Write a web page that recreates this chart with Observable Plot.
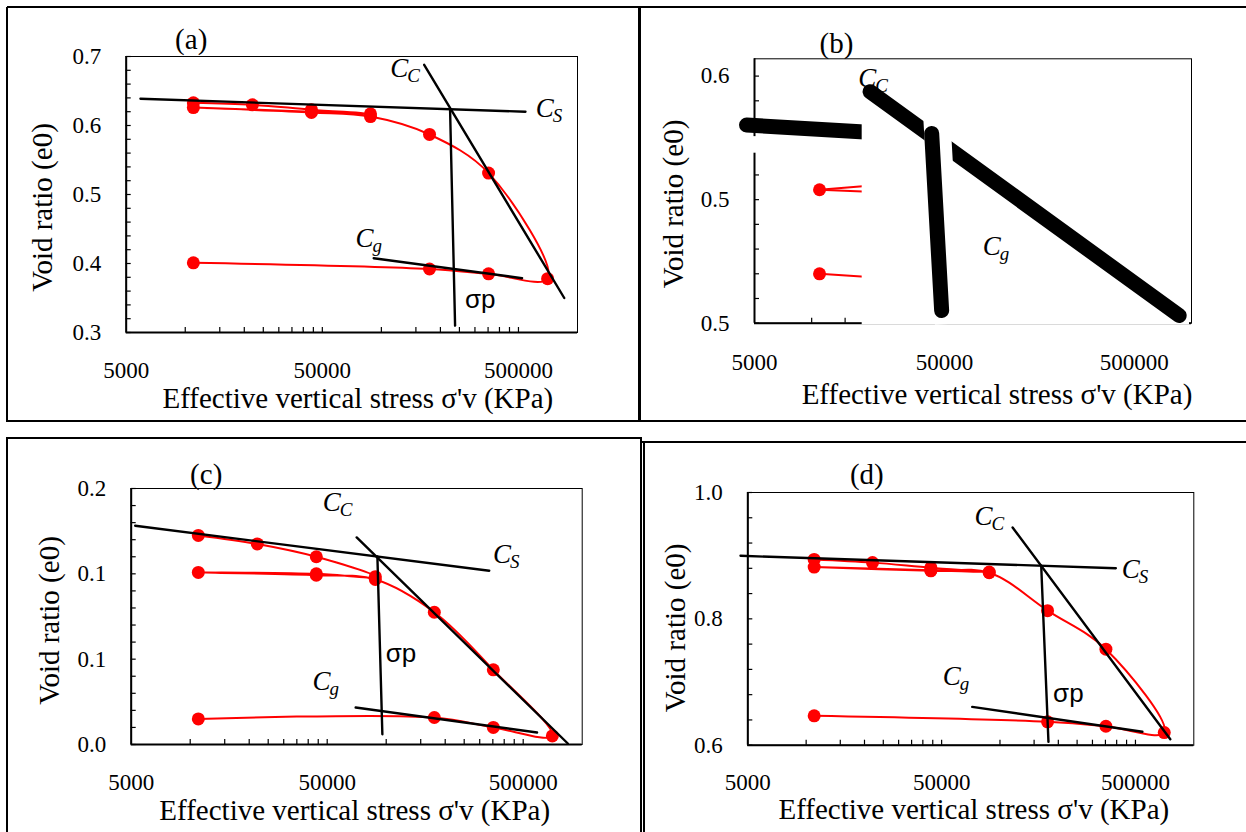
<!DOCTYPE html>
<html><head><meta charset="utf-8">
<script src="https://cdn.jsdelivr.net/npm/d3@7"></script>
<script src="https://cdn.jsdelivr.net/npm/@observablehq/plot@0.6"></script>
<style>
body{margin:0;background:#fff;}
#root{position:relative;width:1246px;height:832px;overflow:hidden;background:#fff;}
.ln{position:absolute;background:#000;z-index:10;}
</style></head><body><div id="root"></div>
<script>
// ---------- shared axis data ----------
const xLo = 5000, xHi = 1000000;
const xMajor = [5000, 50000, 500000];
const xMajorLabels = ["5000", "50000", "500000"];
const xMinor = [10000,15000,20000,25000,30000,35000,40000,45000,50000,100000,150000,200000,250000,300000,350000,400000,450000,500000];
const xTitle = "Effective vertical stress σ'v (KPa)";
const yTitle = "Void ratio (e0)";

// ---------- panel (a) ----------
const aStress = [11000,22000,44000,88000,44000,11000,44000,88000,176000,352000,704000,352000,176000,11000];
const aVoid   = [0.633,0.630,0.623,0.617,0.620,0.626,0.619,0.613,0.587,0.531,0.378,0.385,0.392,0.401];
const aCsX = [5910, 543000],   aCsE = [0.6387, 0.620];
const aCcX = [165300, 856000], aCcE = [0.688, 0.350];
const aSpX = [224000, 237600], aSpE = [0.624, 0.310];
const aCgX = [91400, 521700],  aCgE = [0.4077, 0.3787];
const aLblX = [111100, 612000, 73800], aLblE = [0.6696, 0.6116, 0.4232], aLblSub = ["C","S","g"];
const aSpLblX = [267000], aSpLblE = [0.3348];
const aYDomain = [0.3, 0.7], aYLabelVals = [0.3,0.4,0.5,0.6,0.7], aYLabels = ["0.3","0.4","0.5","0.6","0.7"];

// ---------- panel (b) ----------
const bDotX = [11000, 11000], bDotE = [0.554, 0.520];
const bStubX = [11000, 20000];
const bStub1E = [0.554, 0.5556], bStub2E = [0.554, 0.5532], bStub3E = [0.520, 0.5187];
const bCsX = [4540, 20000],   bCsE = [0.5802, 0.5773];
const bCcX = [20300, 861000], bCcE = [0.5937, 0.5031];
const bSpX = [42850, 48350],  bSpE = [0.5768, 0.5051];
const bMaskX = [18450, 976000], bMaskE = [0.4993, 0.583];
const bGapX = [4800, 5400], bGapE = [0.5688, 0.5755];
const bLblX = [17570, 79600], bLblE = [0.5956, 0.5275], bLblSub = ["C","g"];
const bYDomain = [0.5, 0.607], bYLabelVals = [0.5, 0.55, 0.6], bYLabels = ["0.5","0.5","0.6"];

// ---------- panel (c) ----------
const cStress = [11000,22000,44000,88000,44000,11000,44000,88000,176000,352000,704000,352000,176000,11000];
const cVoid   = [0.147,0.141,0.132,0.118,0.120,0.121,0.119,0.116,0.093,0.0525,0.006,0.012,0.019,0.018];
const cCsX = [5240, 335500],  cCsE = [0.1538, 0.1222];
const cCcX = [70700, 844500], cCcE = [0.1456, 0.0007];
const cSpX = [90170, 95600],  cSpE = [0.1322, 0.0072];
const cCgX = [69870, 588300], cCgE = [0.026, 0.0084];
const cLblX = [47400, 350500, 42100], cLblE = [0.1639, 0.1276, 0.038], cLblSub = ["C","S","g"];
const cSpLblX = [99450], cSpLblE = [0.0577];
const cYDomain = [0, 0.18], cYLabelVals = [0, 0.06, 0.12, 0.18], cYLabels = ["0.0","0.1","0.1","0.2"];

// ---------- panel (d) ----------
const dStress = [11000,22000,44000,88000,44000,11000,44000,88000,176000,352000,704000,352000,176000,11000];
const dVoid   = [0.894,0.889,0.881,0.874,0.877,0.882,0.876,0.873,0.813,0.752,0.620,0.630,0.637,0.6465];
const dCsX = [4585, 396000],   dCsE = [0.8998, 0.8802];
const dCcX = [116200, 756500], dCcE = [0.9446, 0.6095];
const dSpX = [163200, 177900], dSpE = [0.884, 0.6053];
const dCgX = [71900, 543000],  dCgE = [0.6607, 0.6212];
const dLblX = [73850, 425300, 50600], dLblE = [0.9478, 0.8654, 0.696], dLblSub = ["C","S","g"];
const dSpLblX = [188000], dSpLblE = [0.6676];
const dYDomain = [0.6, 1.0], dYLabelVals = [0.6, 0.8, 1.0], dYLabels = ["0.6","0.8","1.0"];

// ---------- helpers ----------
const SERIF = "Liberation Serif";
const SANS = "Liberation Sans";
const RED = "#ff0000";
const pts = (xs, es) => xs.map((x, i) => ({x, e: es[i]}));

function baseMarks(c) {
  const [y0, y1] = c.yDomain;
  const ph = c.height - c.mt - c.mb, pw = c.width - c.ml - c.mr;
  const tickY = (y1 - y0) * 5 / ph;
  const tickX = Math.pow(xHi / xLo, 5 / pw);
  const yMinor = d3.range(y0, c.yTickEnd + c.yStep / 2, c.yStep);
  const T = {fontFamily: SERIF, fill: "black"};
  return [
    Plot.frame({stroke: "black", strokeWidth: 1}),
    Plot.ruleX([xLo], {y1: y0, y2: y1, stroke: "black", strokeWidth: 2}),
    Plot.ruleY([y0], {x1: xLo, x2: xHi, stroke: "black", strokeWidth: 2}),
    Plot.ruleX(xMinor, {x: d => d, y1: y0, y2: y0 + tickY, stroke: "black", strokeWidth: 1.2}),
    Plot.ruleY(yMinor, {y: d => d, x1: xLo, x2: xLo * tickX, stroke: "black", strokeWidth: 1.2}),
    Plot.text(xMajor, {...T, x: d => d, text: (d, i) => xMajorLabels[i], frameAnchor: "bottom", dy: c.xLabDy, textAnchor: "middle", lineAnchor: "middle", fontSize: 23}),
    Plot.text(c.yLabelVals, {...T, y: d => d, text: (d, i) => c.yLabels[i], frameAnchor: "left", dx: -25, textAnchor: "end", lineAnchor: "middle", fontSize: 23}),
    Plot.text([yTitle], {...T, text: d => d, frameAnchor: "left", dx: c.yTitleDx, dy: c.yTitleDy, rotate: -90, textAnchor: "middle", lineAnchor: "middle", fontSize: 29}),
    Plot.text([xTitle], {...T, text: d => d, frameAnchor: "bottom", dx: c.xTitleDx, dy: c.xTitleDy, textAnchor: "middle", lineAnchor: "middle", fontSize: 29}),
    Plot.text([c.name], {...T, text: d => d, frameAnchor: "top-left", dx: c.nameDx, dy: c.nameDy, textAnchor: "middle", lineAnchor: "middle", fontSize: 29})
  ];
}

function cLabelMarks(xs, es, subs) {
  const data = pts(xs, es).map((p, i) => ({...p, sub: subs[i]}));
  const T = {fontFamily: SERIF, fill: "black", fontStyle: "italic", textAnchor: "start", lineAnchor: "bottom"};
  return [
    Plot.text(data, {...T, x: "x", y: "e", text: () => "C", fontSize: 27}),
    Plot.text(data, {...T, x: "x", y: "e", text: "sub", dx: 17, dy: 5, fontSize: 19})
  ];
}

function tangent(xs, es, w = 2.4) {
  return Plot.line(pts(xs, es), {x: "x", y: "e", stroke: "black", strokeWidth: w});
}

function render(c, marks) {
  const svg = Plot.plot({
    width: c.width, height: c.height,
    marginLeft: c.ml, marginRight: c.mr, marginTop: c.mt, marginBottom: c.mb,
    x: {type: "log", domain: [xLo, xHi], axis: null},
    y: {domain: c.yDomain, axis: null},
    style: {background: "transparent", overflow: "visible", color: "black"},
    marks: [...baseMarks(c), ...marks]
  });
  svg.style.position = "absolute";
  svg.style.left = c.left + "px";
  svg.style.top = c.top + "px";
  document.getElementById("root").appendChild(svg);
}

function standardPanel(c, stress, voids, tg, lblX, lblE, lblSub, spX, spE) {
  const path = pts(stress, voids);
  render(c, [
    Plot.line(path, {x: "x", y: "e", stroke: RED, strokeWidth: 2, curve: "catmull-rom"}),
    Plot.dot(path, {x: "x", y: "e", r: 6.5, fill: RED}),
    ...tg.map(([xs, es]) => tangent(xs, es)),
    ...cLabelMarks(lblX, lblE, lblSub),
    Plot.text(pts(spX, spE), {x: "x", y: "e", text: () => "σp", fontFamily: SANS, fontSize: 26, textAnchor: "start", lineAnchor: "bottom", fill: "black"})
  ]);
}

// (a)
standardPanel(
  {name: "(a)", left: 0, top: 0, width: 640, height: 420, ml: 125.7, mr: 63, mt: 56, mb: 88,
   yDomain: aYDomain, yLabelVals: aYLabelVals, yLabels: aYLabels, yStep: 0.02, yTickEnd: 0.7,
   xLabDy: 38, yTitleDx: -83, yTitleDy: 13, xTitleDx: 6, xTitleDy: 66, nameDx: 65, nameDy: -17},
  aStress, aVoid, [[aCsX, aCsE], [aCcX, aCcE], [aSpX, aSpE], [aCgX, aCgE]],
  aLblX, aLblE, aLblSub, aSpLblX, aSpLblE);

// (c)
standardPanel(
  {name: "(c)", left: 0, top: 430, width: 640, height: 402, ml: 130.7, mr: 58.3, mt: 58, mb: 88,
   yDomain: cYDomain, yLabelVals: cYLabelVals, yLabels: cYLabels, yStep: 0.012, yTickEnd: 0.18,
   xLabDy: 38, yTitleDx: -81, yTitleDy: 4, xTitleDx: -2, xTitleDy: 66, nameDx: 75, nameDy: -14},
  cStress, cVoid, [[cCsX, cCsE], [cCcX, cCcE], [cSpX, cSpE], [cCgX, cCgE]],
  cLblX, cLblE, cLblSub, cSpLblX, cSpLblE);

// (d)
standardPanel(
  {name: "(d)", left: 640, top: 430, width: 606, height: 402, ml: 107.3, mr: 52.7, mt: 62, mb: 87.3,
   yDomain: dYDomain, yLabelVals: dYLabelVals, yLabels: dYLabels, yStep: 0.04, yTickEnd: 1.0,
   xLabDy: 37, yTitleDx: -72, yTitleDy: 9, xTitleDx: 3, xTitleDy: 65, nameDx: 119, nameDy: -18},
  dStress, dVoid, [[dCsX, dCsE], [dCcX, dCcE], [dSpX, dSpE], [dCgX, dCgE]],
  dLblX, dLblE, dLblSub, dSpLblX, dSpLblE);

// (b) – the damaged panel
render(
  {name: "(b)", left: 640, top: 0, width: 606, height: 420, ml: 114, mr: 55, mt: 58.3, mb: 97.3,
   yDomain: bYDomain, yLabelVals: bYLabelVals, yLabels: bYLabels, yStep: 0.01, yTickEnd: 0.6,
   xLabDy: 39, yTitleDx: -81, yTitleDy: 13, xTitleDx: 24, xTitleDy: 72, nameDx: 82, nameDy: -15},
  [
    Plot.line(pts(bStubX, bStub1E), {x: "x", y: "e", stroke: RED, strokeWidth: 2}),
    Plot.line(pts(bStubX, bStub2E), {x: "x", y: "e", stroke: RED, strokeWidth: 2}),
    Plot.line(pts(bStubX, bStub3E), {x: "x", y: "e", stroke: RED, strokeWidth: 2}),
    Plot.dot(pts(bDotX, bDotE), {x: "x", y: "e", r: 6.5, fill: RED}),
    Plot.rect([0], {x1: bGapX[0], x2: bGapX[1], y1: bGapE[0], y2: bGapE[1], fill: "white"}),
    Plot.line(pts(bCsX, bCsE), {x: "x", y: "e", stroke: "black", strokeWidth: 15, strokeLinecap: "round"}),
    Plot.rect([0], {x1: bMaskX[0], x2: bMaskX[1], y1: bMaskE[0], y2: bMaskE[1], fill: "white"}),
    ...cLabelMarks([bLblX[0]], [bLblE[0]], [bLblSub[0]]),
    Plot.line(pts(bCcX, bCcE), {x: "x", y: "e", stroke: "black", strokeWidth: 15, strokeLinecap: "round"}),
    Plot.line(pts(bSpX, bSpE), {x: "x", y: "e", stroke: "white", strokeWidth: 27, strokeLinecap: "square", dx: 6}),
    Plot.line(pts(bSpX, bSpE), {x: "x", y: "e", stroke: "black", strokeWidth: 15, strokeLinecap: "round"}),
    ...cLabelMarks([bLblX[1]], [bLblE[1]], [bLblSub[1]])
  ]);

// ---------- outer panel borders ----------
const borders = [
  [7, 6, 1239, 2],     // top across (a)+(b)
  [6, 7, 2, 415],      // (a) left
  [638, 7, 3, 415],    // divider (a)|(b)
  [7, 420, 1239, 2],   // bottom of (a)+(b)
  [7, 437, 635, 2],    // (c) top
  [6, 437, 2, 395],    // (c) left
  [640, 437, 2, 395],  // (c) right
  [642, 441, 604, 2],  // (d) top
  [643, 441, 2, 391]   // (d) left
];
const root = document.getElementById("root");
for (const [l, t, w, h] of borders) {
  const dv = document.createElement("div");
  dv.className = "ln";
  dv.style.left = l + "px"; dv.style.top = t + "px";
  dv.style.width = w + "px"; dv.style.height = h + "px";
  root.appendChild(dv);
}
</script></body></html>
